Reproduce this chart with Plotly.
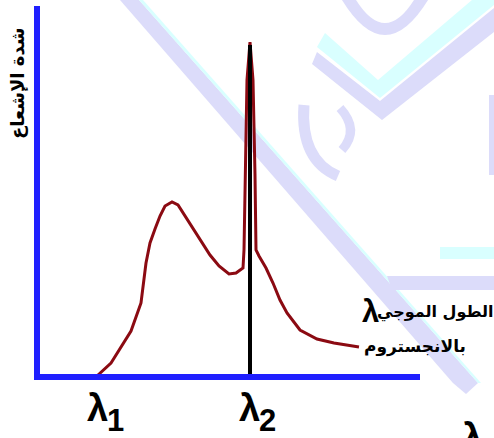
import plotly.graph_objects as go

# ---- data (x: wavelength units, y: intensity units) ----
wavelength = [61, 74, 94, 104, 109, 113, 118, 123, 128, 135, 141, 148, 156, 165, 173,
              182, 192, 199, 206, 207, 208, 210, 213, 216, 218, 219, 222, 229, 236,
              243, 250, 263, 280, 297, 322]
intensity = [2, 14, 46, 74, 114, 134, 148, 161, 171, 175, 172, 161, 149, 135, 122,
             111, 103, 104, 109, 127, 202, 297, 335, 297, 202, 127, 121, 109, 94,
             77, 64, 47, 38, 34, 30]
marker_x = [213, 213]
marker_y = [0, 332]

tick_pos = [61, 213]
tick_symbols = ["λ", "λ"]
tick_subs = ["1", "2"]

y_title = "شدة الإشعاع"
x_title_1 = "الطول الموجي"
x_title_2 = "بالانجستروم"

# ---- layout constants ----
W, H = 494, 438
L, R, T, B = 40, 74, 6, 64
PW, PH = W - L - R, H - T - B
X0, Y0 = 37, 377  # pixel position of the axis origin (line centres)


def px(x):
    return (x - L) / PW


def py(y):
    return (H - B - y) / PH


def poly(points):
    return "M " + " L ".join(f"{px(a):.4f},{py(b):.4f}" for a, b in points) + " Z"


LAV = "#dcdcfa"
CYA = "#d9ffff"

shapes = []
# faint watermark decoration
shapes.append(dict(type="path", xref="paper", yref="paper", layer="below",
                   path=poly([(120, 0), (139, 0), (478, 383), (466, 394), (453, 383)]),
                   fillcolor=LAV, line=dict(width=0)))
shapes.append(dict(type="path", xref="paper", yref="paper", layer="below",
                   path=poly([(139, 0), (143, 0), (481, 383), (478, 383)]),
                   fillcolor=CYA, line=dict(width=0)))
shapes.append(dict(type="path", xref="paper", yref="paper", layer="below",
                   path=poly([(325, 33), (378, 80), (472, 0), (494, 0), (494, 5), (380, 98), (317, 47)]),
                   fillcolor=CYA, line=dict(width=0)))
shapes.append(dict(type="path", xref="paper", yref="paper", layer="below",
                   path=poly([(317, 52), (380, 101), (494, 8), (494, 32), (382, 120), (312, 64)]),
                   fillcolor=LAV, line=dict(width=0)))
shapes.append(dict(type="path", xref="paper", yref="paper", layer="below",
                   path=(f"M {px(342):.4f},{py(0):.4f} Q {px(385):.4f},{py(70):.4f} {px(428):.4f},{py(0):.4f} "
                         f"L {px(414):.4f},{py(0):.4f} Q {px(385):.4f},{py(46):.4f} {px(356):.4f},{py(0):.4f} Z"),
                   fillcolor=LAV, line=dict(width=0)))
shapes.append(dict(type="path", xref="paper", yref="paper", layer="below",
                   path=(f"M {px(304):.4f},{py(105):.4f} Q {px(300):.4f},{py(160):.4f} {px(338):.4f},{py(176):.4f}"),
                   line=dict(color=LAV, width=11)))
shapes.append(dict(type="path", xref="paper", yref="paper", layer="below",
                   path=(f"M {px(340):.4f},{py(108):.4f} Q {px(360):.4f},{py(130):.4f} {px(342):.4f},{py(150):.4f}"),
                   line=dict(color=LAV, width=9)))
shapes.append(dict(type="path", xref="paper", yref="paper", layer="below",
                   path=poly([(440, 247), (494, 247), (494, 259), (440, 259)]),
                   fillcolor=CYA, line=dict(width=0)))
shapes.append(dict(type="path", xref="paper", yref="paper", layer="below",
                   path=poly([(387, 276), (494, 276), (494, 290), (392, 290)]),
                   fillcolor=LAV, line=dict(width=0)))
shapes.append(dict(type="path", xref="paper", yref="paper", layer="below",
                   path=poly([(489, 95), (494, 95), (494, 175), (489, 175)]),
                   fillcolor=LAV, line=dict(width=0)))

fig = go.Figure()
fig.add_trace(go.Scatter(x=wavelength, y=intensity, mode="lines",
                         line=dict(color="#8B0A12", width=3), hoverinfo="skip"))
fig.add_trace(go.Scatter(x=marker_x, y=marker_y, mode="lines",
                         line=dict(color="black", width=4), hoverinfo="skip"))


def add_text(ann, x_pix, y_pix, text, font, angle=0):
    ann.append(dict(x=px(x_pix), y=py(y_pix), xref="paper", yref="paper", text=text,
                    textangle=angle, showarrow=False, font=font,
                    xanchor="center", yanchor="middle"))


ann = []
LAT = "Liberation Sans, Arial, sans-serif"
LAMBDA_FONT = dict(family=LAT, size=38, color="black")
SUB_FONT = dict(family=LAT, size=31, color="black")
for xp, sym, sub in zip(tick_pos, tick_symbols, tick_subs):
    xpix = X0 + xp
    add_text(ann, xpix - 1, 408, f"<b>{sym}</b>", LAMBDA_FONT)
    add_text(ann, xpix + 17, 420, f"<b>{sub}</b>", SUB_FONT)

add_text(ann, 17, 84, f"<b>{y_title}</b>",
         dict(family="DejaVu Sans, sans-serif", size=18, color="black"), angle=-90)
add_text(ann, 370, 311, "<b>λ</b>", dict(family=LAT, size=31, color="black"))
add_text(ann, 435, 312, f"<b>{x_title_1}</b>",
         dict(family="DejaVu Sans, sans-serif", size=16, color="black"))
add_text(ann, 415, 346, f"<b>{x_title_2}</b>",
         dict(family="DejaVu Sans, sans-serif", size=17, color="black"))
add_text(ann, 472, 437, "<b>λ</b>", LAMBDA_FONT)

fig.update_layout(
    width=W, height=H,
    margin=dict(l=L, r=R, t=T, b=B),
    paper_bgcolor="white", plot_bgcolor="rgba(0,0,0,0)",
    showlegend=False,
    shapes=shapes,
    annotations=ann,
    xaxis=dict(range=[L - X0, L - X0 + PW], showgrid=False, zeroline=False,
               showticklabels=False, ticks="", showline=True, linecolor="#1f1fff",
               linewidth=6, fixedrange=True),
    yaxis=dict(range=[Y0 - (H - B), Y0 - (H - B) + PH], showgrid=False, zeroline=False,
               showticklabels=False, ticks="", showline=True, linecolor="#1f1fff",
               linewidth=6, fixedrange=True),
)
fig.write_html("out.html", config={"displayModeBar": False},
               post_script="document.body.style.margin='0';document.body.style.overflow='hidden';")
